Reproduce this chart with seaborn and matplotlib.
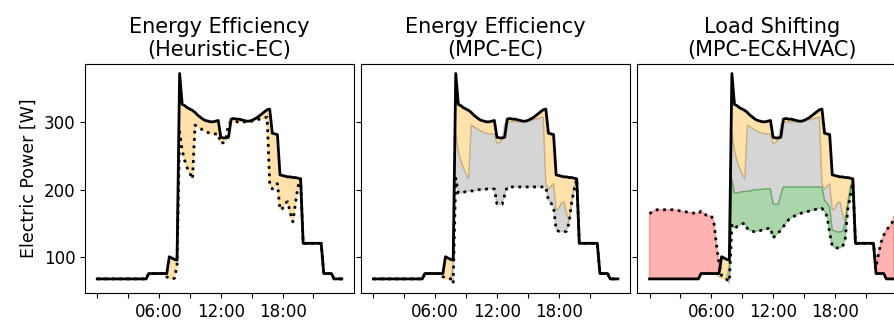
import numpy as np
import pandas as pd
import matplotlib
matplotlib.use("Agg")
import matplotlib.pyplot as plt
import seaborn as sns

# 15-min samples over one day, hours since midnight
hours = np.arange(96) * 0.25

baseline = [67] * 20 + [75] * 8 + [
    100, 98, 96, 95,
    373, 327, 325, 322, 320, 318, 315, 311, 308, 305, 303, 302,
    301, 301, 302, 303, 278, 277, 277, 278, 305, 306, 305, 305,
    304, 303, 302, 302, 303, 305, 307, 310, 313, 316, 319, 320,
    284, 283, 282, 222, 221, 220, 219, 219, 218, 218, 217, 216,
    120, 120, 120, 120, 120, 120, 120, 120,
    75, 75, 75, 75, 67, 67, 67, 67]

heuristic = [67] * 20 + [75] * 7 + [
    70, 68, 67, 68, 88,
    286, 258, 243, 232, 224, 216, 296, 294, 291, 289, 287, 285,
    284, 283, 283, 283, 269, 270, 275, 298, 300, 301, 301, 301,
    301, 301, 301, 301, 302, 303, 304, 305, 306, 307, 308, 209,
    201, 205, 209, 170, 172, 180, 182, 165, 152, 180, 205, 216,
    120, 120, 120, 120, 120, 120, 120, 120,
    75, 75, 75, 75, 67, 67, 67, 67]

mpc_ec = [67] * 20 + [75] * 7 + [
    70, 69, 68, 67, 60,
    217, 195, 195, 196, 197, 197, 198, 198, 199, 200, 200, 200,
    201, 201, 201, 201, 179, 178, 178, 192, 204, 204, 204, 204,
    204, 204, 204, 204, 204, 204, 204, 204, 204, 204, 204, 204,
    184, 180, 174, 140, 138, 137, 137, 138, 150, 180, 200, 216,
    120, 120, 120, 120, 120, 120, 120, 120,
    75, 75, 75, 75, 67, 67, 67, 67]

mpc_hvac = [
    164, 167, 169, 170, 170, 170, 170, 170, 170, 170, 169, 169,
    168, 167, 167, 166, 166, 165, 165, 164, 168, 165, 162, 161,
    161, 152, 118, 90, 72, 70, 66, 63,
    147, 142, 145, 147, 149, 150, 142, 139, 138, 137, 138, 139,
    140, 141, 142, 143, 128, 132, 135, 140, 145, 150, 155, 158,
    160, 162, 164, 165, 166, 167, 168, 169, 170, 171, 172, 172,
    167, 160, 135, 116, 114, 113, 113, 115, 125, 170, 190, 210,
    120, 120, 120, 120, 120, 120, 120, 120,
    85, 105, 122, 132, 140, 144, 148, 160]

titles = ["Energy Efficiency\n(Heuristic-EC)",
          "Energy Efficiency\n(MPC-EC)",
          "Load Shifting\n(MPC-EC&HVAC)"]
dotted = [heuristic, mpc_ec, mpc_hvac]

df = pd.DataFrame({"hour": hours, "baseline": baseline, "heuristic": heuristic,
                   "mpc_ec": mpc_ec, "mpc_hvac": mpc_hvac})
b = df["baseline"].values
h = df["heuristic"].values
m = df["mpc_ec"].values
v = df["mpc_hvac"].values

fig, axes = plt.subplots(1, 3, figsize=(8.95, 3.27), dpi=100, sharey=True)
fig.subplots_adjust(left=0.095, right=1.0126, bottom=0.104, top=0.804, wspace=0.0266)

for i, ax in enumerate(axes):
    # savings / shifted load bands
    ax.fill_between(hours, b, h, where=h <= b, interpolate=True, color="orange", alpha=0.33)
    if i >= 1:
        ax.fill_between(hours, h, m, where=m <= h, interpolate=True, color="gray", alpha=0.33)
    if i == 2:
        ax.fill_between(hours, m, v, where=v <= m, interpolate=True, color="green", alpha=0.33)
        ax.fill_between(hours, b, v, where=v >= b, interpolate=True, color="red", alpha=0.3)
    sns.lineplot(data=df, x="hour", y="baseline", ax=ax, color="black", linewidth=2)
    sns.lineplot(x=hours, y=dotted[i], ax=ax, color="black", linewidth=2, linestyle=":")
    ax.set_title(titles[i], fontsize=15)
    ax.set_xticks([0, 3, 6, 9, 12, 15, 18, 21])
    ax.set_xticklabels(["", "", "06:00", "", "12:00", "", "18:00", ""])
    ax.tick_params(labelsize=12)
    ax.set_xlabel("")
    ax.set_ylabel("")

axes[0].set_ylim(46, 387)
axes[0].set_yticks([100, 200, 300])
axes[0].set_ylabel("Electric Power [W]", fontsize=12.5)

fig.savefig("out.png", dpi=100)
